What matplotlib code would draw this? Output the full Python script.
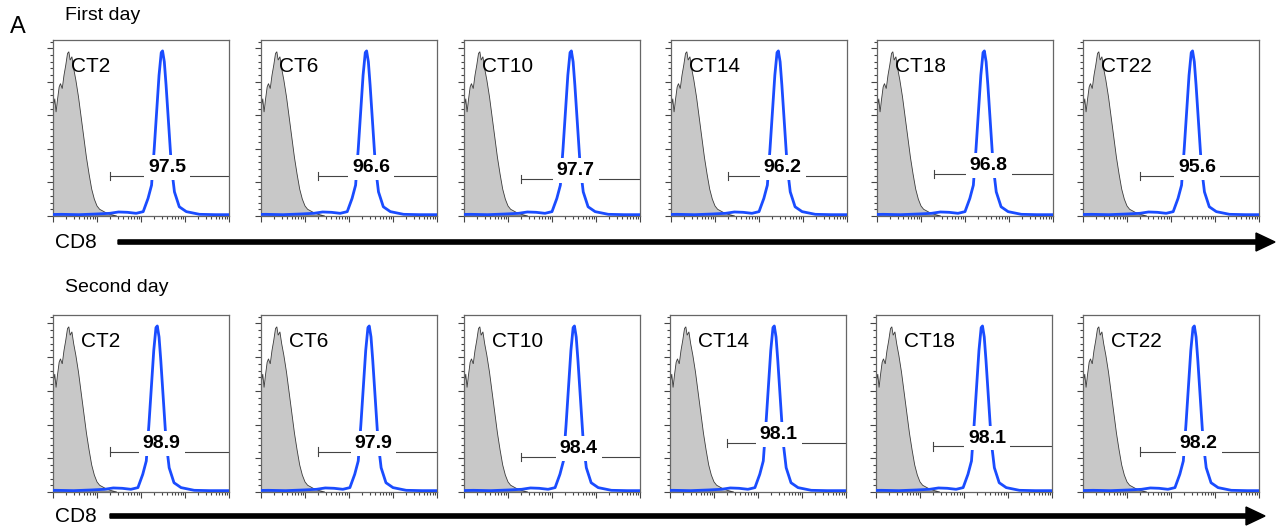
import numpy as np
import matplotlib
matplotlib.use("Agg")
import matplotlib.pyplot as plt
from matplotlib.patches import FancyArrow
from matplotlib.ticker import FixedLocator, AutoMinorLocator

plt.rcParams['font.family'] = ['Liberation Sans', 'DejaVu Sans']

# time points and gated percentages
times = ["CT2", "CT6", "CT10", "CT14", "CT18", "CT22"]
pct_day1 = ["97.5", "96.6", "97.7", "96.2", "96.8", "95.6"]
pct_day2 = ["98.9", "97.9", "98.4", "98.1", "98.1", "98.2"]

# blue peak position (log decades) and gate level (% of max) per panel
peak_day1 = [2.49, 2.40, 2.44, 2.44, 2.44, 2.49]
peak_day2 = [2.37, 2.46, 2.51, 2.37, 2.42, 2.53]
gate_day1 = [24, 24, 22, 24, 25, 24]
gate_day2 = [24, 24, 21, 29, 27, 24]
gate_start = 1.3

# isotype control histogram (grey), x in decades
gray_x = [0.00, 0.00, 0.04, 0.07, 0.10, 0.14, 0.17, 0.21, 0.25, 0.29, 0.33,
          0.36, 0.39, 0.43, 0.47, 0.52, 0.58, 0.64, 0.70, 0.76, 0.82, 0.88,
          0.94, 1.00, 1.06, 1.13, 1.20, 1.30, 1.45]
gray_y = [0, 64, 70, 62, 69, 77, 79, 76, 84, 90, 97, 98, 93, 95, 88, 81, 71,
          59, 47, 35, 25, 16, 10, 6, 4, 3, 2, 1, 0]

# CD8 histogram (blue), x offset from the peak
blue_dx = [-2.7, -2.3, -1.9, -1.5, -1.2, -1.0, -0.8, -0.6, -0.44, -0.33,
           -0.25, -0.19, -0.14, -0.08, -0.03, 0.00, 0.04, 0.08, 0.14, 0.20,
           0.27, 0.38, 0.54, 0.84, 1.20, 1.7]
blue_y = [0.8, 1.0, 0.8, 1.2, 1.6, 2.4, 2.2, 1.6, 2.6, 10.5, 18.4, 40, 60, 84,
          97.5, 98.5, 92, 78, 54, 30, 14.4, 5.5, 2.6, 1.0, 0.8, 0.8]

W, H = 1278, 527
fig = plt.figure(figsize=(W / 100, H / 100), dpi=100)

# panel boxes in pixels: left, top, right, bottom
lefts_1 = [53, 261, 464, 671, 877, 1083]
lefts_2 = [53, 261, 464, 670, 876, 1083]
rows = [
    (lefts_1, 40, 216, peak_day1, gate_day1, pct_day1, 0.10),
    (lefts_2, 315, 492, peak_day2, gate_day2, pct_day2, 0.16),
]

minor_x = [d + np.log10(k) for d in range(4) for k in range(2, 10)]

for lefts, top, bottom, peaks, gates, pcts, lab_x in rows:
    for i, left in enumerate(lefts):
        ax = fig.add_axes([left / W, (H - bottom) / H, 176 / W, (bottom - top) / H])
        ax.fill(gray_x, gray_y, facecolor='#c8c8c8', edgecolor='#3a3a3a',
                lw=0.6, zorder=1)
        g = gates[i]
        ax.plot([gate_start, 4.0], [g, g], color='#444444', lw=0.8, zorder=2)
        ax.plot([gate_start, gate_start], [g - 2.4, g + 2.4], color='#444444',
                lw=0.8, zorder=2)
        bx = np.array(blue_dx) + peaks[i]
        ax.plot(bx, blue_y, color='#1a4cff', lw=2.0, zorder=3,
                solid_joinstyle='round')
        ax.text(peaks[i] + 0.1, g + 5.0, pcts[i], ha='center', va='center',
                fontsize=14, fontweight='bold', zorder=4,
                bbox=dict(boxstyle='square,pad=0.2', fc='white', ec='none'))
        ax.text(lab_x, 0.85, times[i], transform=ax.transAxes, ha='left',
                va='center', fontsize=15, zorder=5)
        ax.set_xlim(0, 4)
        ax.set_ylim(0, 105)
        ax.xaxis.set_major_locator(FixedLocator([0, 1, 2, 3, 4]))
        ax.xaxis.set_minor_locator(FixedLocator(minor_x))
        ax.yaxis.set_major_locator(FixedLocator([0, 20, 40, 60, 80, 100]))
        ax.yaxis.set_minor_locator(AutoMinorLocator(5))
        ax.tick_params(which='both', direction='out', colors='#444444',
                       labelbottom=False, labelleft=False, width=0.8)
        ax.tick_params(which='major', length=4)
        ax.tick_params(which='minor', length=2.5)
        for s in ax.spines.values():
            s.set_color('#666666')
            s.set_linewidth(0.9)

# panel letter and row titles
fig.text(10 / W, 1 - 27 / H, "A", fontsize=17, ha='left', va='center')
fig.text(65 / W, 1 - 16 / H, "First day", fontsize=14, ha='left', va='center')
fig.text(65 / W, 1 - 287 / H, "Second day", fontsize=14, ha='left', va='center')

# CD8 axis arrows
for y_px, x0, x1 in [(242, 118, 1275), (516, 110, 1265)]:
    fig.text(55 / W, 1 - y_px / H, "CD8", fontsize=15, ha='left', va='center')
    arr = FancyArrow(x0 / 100, (H - y_px) / 100, (x1 - x0) / 100, 0,
                     width=0.042, head_width=0.18, head_length=0.19,
                     length_includes_head=True, color='black',
                     transform=fig.dpi_scale_trans)
    fig.add_artist(arr)

fig.savefig("out.png", dpi=100)
